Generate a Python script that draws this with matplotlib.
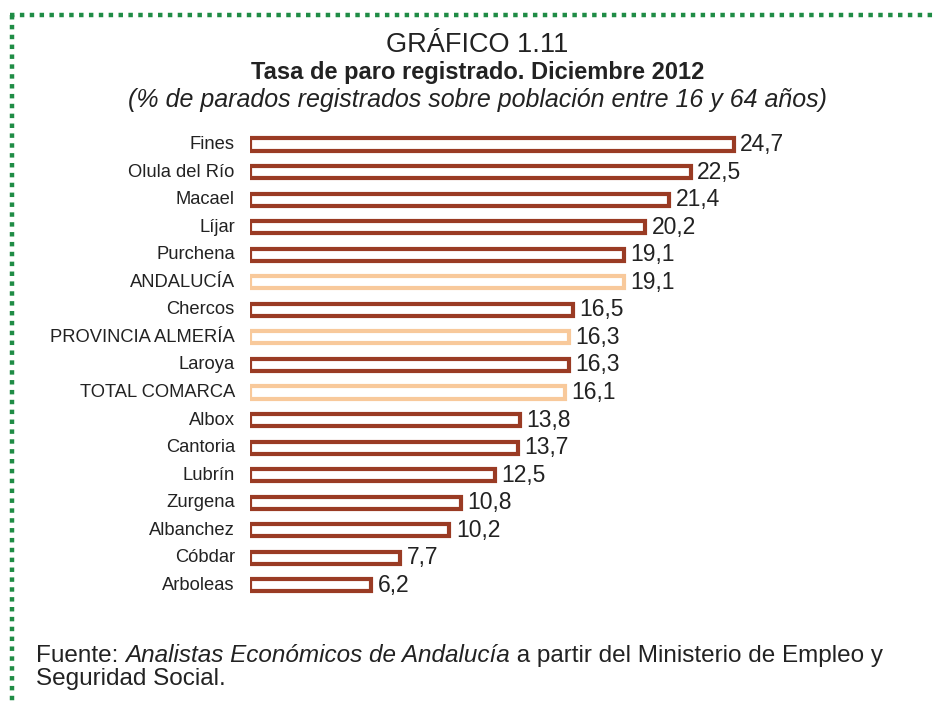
import matplotlib.pyplot as plt
from matplotlib.lines import Line2D

plt.rcParams['font.family'] = ['Liberation Sans', 'DejaVu Sans']

municipios = ['Fines', 'Olula del Río', 'Macael', 'Líjar', 'Purchena', 'ANDALUCÍA',
              'Chercos', 'PROVINCIA ALMERÍA', 'Laroya', 'TOTAL COMARCA', 'Albox',
              'Cantoria', 'Lubrín', 'Zurgena', 'Albanchez', 'Cóbdar', 'Arboleas']
tasa = [24.7, 22.5, 21.4, 20.2, 19.1, 19.1, 16.5, 16.3, 16.3, 16.1, 13.8,
        13.7, 12.5, 10.8, 10.2, 7.7, 6.2]
referencias = ['ANDALUCÍA', 'PROVINCIA ALMERÍA', 'TOTAL COMARCA']

oscuro = '#9a3b24'
claro = '#f8c99b'
texto = '#222222'

W, H = 935, 701
fig = plt.figure(figsize=(W / 100, H / 100), dpi=100)

# axes in pixel coordinates: x from 249.5, rows at 144.5 + 27.56*i
left, top, bottom = 249.5, 130.7, 599.2
scale = 19.6
ax = fig.add_axes([left / W, 1 - bottom / H, (W - left) / W, (bottom - top) / H])
ax.set_xlim(0, (W - left) / scale)
ax.set_ylim(len(municipios) - 0.5, -0.5)
ax.axis('off')

for i, (m, v) in enumerate(zip(municipios, tasa)):
    col = claro if m in referencias else oscuro
    ax.barh(i, v, height=0.44, color='white', edgecolor=col, linewidth=3.0)
    ax.text(v + 0.33, i, f'{v:.1f}'.replace('.', ','), va='center', ha='left',
            fontsize=16.5, color=texto)
    ax.text(-0.75, i, m, va='center', ha='right', fontsize=13.2, color=texto)

fig.text(477 / W, 1 - 45 / H, 'GRÁFICO 1.11', ha='center', va='center',
         fontsize=19.5, color=texto)
fig.text(478 / W, 1 - 73 / H, 'Tasa de paro registrado. Diciembre 2012', ha='center',
         va='center', fontsize=17, fontweight='bold', color=texto)
fig.text(478 / W, 1 - 100 / H, '(% de parados registrados sobre población entre 16 y 64 años)',
         ha='center', va='center', fontsize=18, style='italic', color=texto)

# source line: plain + italic + plain pieces laid out one after another
renderer = fig.canvas.get_renderer()
x = 36
for parte, estilo in [('Fuente: ', 'normal'), ('Analistas Económicos de Andalucía', 'italic'),
                      (' a partir del Ministerio de Empleo y', 'normal')]:
    t = fig.text(x / W, 1 - 656 / H, parte, ha='left', va='center', fontsize=17.5,
                 style=estilo, color=texto)
    x += t.get_window_extent(renderer).width
fig.text(36 / W, 1 - 679 / H, 'Seguridad Social.', ha='left', va='center',
         fontsize=17.5, color=texto)

# dotted green frame
verde = '#1f8c45'
fig.add_artist(Line2D([9.5 / W, 1], [1 - 14.7 / H, 1 - 14.7 / H], transform=fig.transFigure,
                      color=verde, lw=3.2, linestyle=(0, (1, 1.22))))
fig.add_artist(Line2D([11.7 / W, 11.7 / W], [1 - 14.7 / H, 0], transform=fig.transFigure,
                      color=verde, lw=3.2, linestyle=(0, (1, 1.22))))

fig.savefig('out.png', dpi=100)
